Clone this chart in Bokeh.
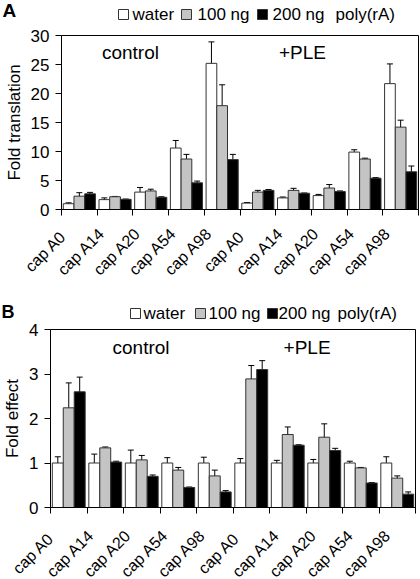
import numpy as np
from bokeh.plotting import figure
from bokeh.core.properties import value
from bokeh.models import (Range1d, FixedTicker, ColumnDataSource, Whisker, TeeHead, Label)
from bokeh.embed import file_html
from bokeh.resources import INLINE

# ---------------- data ----------------
categories = ["cap A0", "cap A14", "cap A20", "cap A54", "cap A98",
              "cap A0", "cap A14", "cap A20", "cap A54", "cap A98"]
series_names = ["water", "100 ng", "200 ng"]

# Panel A: fold translation
a_water = [1.0, 1.7, 3.0, 10.6, 25.2, 1.1, 2.0, 2.4, 9.9, 21.7]
a_water_err = [0.15, 0.3, 0.8, 1.3, 3.7, 0.1, 0.15, 0.2, 0.4, 3.4]
a_100 = [2.3, 2.2, 3.2, 8.7, 17.9, 3.0, 3.3, 3.7, 8.7, 14.2]
a_100_err = [0.6, 0.05, 0.3, 0.8, 3.6, 0.3, 0.35, 0.6, 0.15, 1.2]
a_200 = [2.7, 1.75, 2.1, 4.6, 8.6, 3.3, 2.8, 3.1, 5.4, 6.5]
a_200_err = [0.25, 0.05, 0.1, 0.3, 0.9, 0.15, 0.05, 0.1, 0.1, 1.0]
a_yticks = [0, 5, 10, 15, 20, 25, 30]

# Panel B: fold effect
b_water = [1.0, 1.0, 1.0, 1.0, 1.0, 1.0, 1.0, 1.0, 1.0, 1.0]
b_water_err = [0.14, 0.2, 0.29, 0.12, 0.13, 0.1, 0.06, 0.08, 0.04, 0.14]
b_100 = [2.24, 1.34, 1.07, 0.84, 0.71, 2.89, 1.64, 1.58, 0.89, 0.66]
b_100_err = [0.56, 0.02, 0.1, 0.06, 0.13, 0.3, 0.17, 0.3, 0.01, 0.05]
b_200 = [2.6, 1.02, 0.70, 0.45, 0.35, 3.1, 1.40, 1.28, 0.55, 0.30]
b_200_err = [0.33, 0.02, 0.03, 0.01, 0.03, 0.2, 0.01, 0.05, 0.01, 0.05]
b_yticks = [0, 1, 2, 3, 4]

FONT = "Liberation Sans"
FILLS = ["white", "#c4c4c4", "black"]
OUTLINE = "#333333"
OFFSETS = [-0.3, 0.0, 0.3]
BAR_W = 0.3
W = 420
N = len(categories)


def bare_figure(height, x_range, y_range):
    f = figure(width=W, height=height, title=None, output_backend="svg",
               toolbar_location=None, x_range=x_range, y_range=y_range,
               x_axis_location=None, y_axis_location=None,
               min_border=0, background_fill_color="white", border_fill_color="white")
    f.grid.visible = False
    f.outline_line_color = None
    return f


def make_header(letter, height, letter_xy, letter_size, swatch_x, text_x, key_y, poly_x):
    """Panel letter and colour key, in a small figure measured in pixels."""
    h = bare_figure(height, Range1d(0, W), Range1d(height, 0))
    h.rect(x=swatch_x, y=[key_y] * 3, width=10, height=10, fill_color=FILLS,
           line_color=OUTLINE, line_width=1)
    for tx, name in zip(text_x, series_names):
        h.add_layout(Label(x=tx, y=key_y, text=name, text_align="left",
                           text_baseline="middle", text_font=FONT, text_font_size="17px",
                           text_color="black"))
    h.add_layout(Label(x=poly_x, y=key_y, text="poly(rA)", text_align="left",
                       text_baseline="middle", text_font=FONT, text_font_size="17px",
                       text_color="black"))
    h.add_layout(Label(x=letter_xy[0], y=letter_xy[1], text=letter, text_align="left",
                       text_baseline="middle", text_font=FONT, text_font_size=letter_size,
                       text_font_style="bold", text_color="black"))
    return h


def make_strip(height, frame_left, frame_right, label_y, x_off):
    """Rotated category labels, on an x scale that lines up with the panel's frame."""
    scale = (frame_right - frame_left) / N
    s = bare_figure(height, Range1d(-frame_left / scale, (W - frame_left) / scale),
                    Range1d(height, 0))
    src = ColumnDataSource(dict(x=np.arange(N) + 0.5, y=np.full(N, label_y),
                                text=categories))
    s.text(x="x", y="y", text="text", source=src, angle=np.pi / 4,
           text_align="center", text_baseline="middle", x_offset=x_off,
           text_font=value(FONT), text_font_size=value("16px"), text_color="black")
    return s


def make_panel(ylabel, ymax, yticks, values, errs, height,
               mb_left, mb_right, mb_top, mb_bottom, group_y, group_x,
               ylab_standoff, ytick_standoff):
    p = figure(width=W, height=height, title=None, output_backend="svg",
               toolbar_location=None,
               x_range=Range1d(0, N), y_range=Range1d(0, ymax),
               min_border_left=mb_left, min_border_right=mb_right,
               min_border_top=mb_top, min_border_bottom=mb_bottom,
               background_fill_color="white", border_fill_color="white")
    p.grid.visible = False
    p.outline_line_color = "black"
    p.outline_line_width = 1

    centers = np.arange(N) + 0.5
    for k in range(3):
        xs = centers + OFFSETS[k]
        top = np.array(values[k])
        err = np.array(errs[k])
        src = ColumnDataSource(dict(x=xs, top=top, upper=top + err, lower=top - err))
        p.vbar(x="x", top="top", width=BAR_W, source=src, fill_color=FILLS[k],
               line_color=OUTLINE, line_width=1)
        p.add_layout(Whisker(source=src, base="x", upper="upper", lower="lower",
                             dimension="height", line_color="black", line_width=1,
                             upper_head=TeeHead(size=6, line_color="black", line_width=1),
                             lower_head=TeeHead(size=6, line_color="black", line_width=1)))

    # x axis: tick marks on the category boundaries only
    xa = p.xaxis[0]
    xa.ticker = FixedTicker(ticks=[], minor_ticks=list(range(N + 1)))
    xa.major_tick_line_color = None
    xa.major_tick_out = 0
    xa.major_tick_in = 0
    xa.major_label_standoff = 0
    xa.minor_tick_line_color = "black"
    xa.minor_tick_out = 6
    xa.minor_tick_in = 0
    xa.axis_line_color = "black"

    ya = p.yaxis[0]
    ya.ticker = FixedTicker(ticks=yticks)
    ya.axis_line_color = "black"
    ya.major_tick_line_color = "black"
    ya.major_tick_out = 6
    ya.major_tick_in = 0
    ya.minor_tick_line_color = None
    ya.major_label_text_font = FONT
    ya.major_label_text_font_size = "17px"
    ya.major_label_text_color = "black"
    ya.major_label_standoff = ytick_standoff
    ya.axis_label = ylabel
    ya.axis_label_text_font = FONT
    ya.axis_label_text_font_size = "17px"
    ya.axis_label_text_font_style = "normal"
    ya.axis_label_text_color = "black"
    ya.axis_label_standoff = ylab_standoff

    for gx, gt in zip(group_x, ["control", "+PLE"]):
        p.add_layout(Label(x=gx, y=group_y, text=gt, text_align="center",
                           text_baseline="middle", text_font=FONT,
                           text_font_size="19px", text_color="black"))
    return p


# panel A: window rows 0-28 header, 28-220 plot (frame 35-209), 220-280 labels
hA = make_header("A", 28, letter_xy=(2, 10), letter_size="19px", swatch_x=[123, 186, 262],
                 text_x=[132, 197, 272], key_y=14, poly_x=335)
pA = make_panel("Fold translation", 30, a_yticks,
                [a_water, a_100, a_200], [a_water_err, a_100_err, a_200_err],
                height=192, mb_left=61, mb_right=2, mb_top=7, mb_bottom=11,
                group_y=27.1, group_x=(1.93, 6.75), ylab_standoff=4, ytick_standoff=6)
sA = make_strip(60, frame_left=61, frame_right=418, label_y=31, x_off=-34)

# panel B: window rows 280-322 header, 322-518 plot (frame 329-507), 518-579 labels
hB = make_header("B", 42, letter_xy=(1, 31), letter_size="18px", swatch_x=[135, 200, 272],
                 text_x=[143, 208, 278], key_y=33, poly_x=337)
pB = make_panel("Fold effect", 4, b_yticks,
                [b_water, b_100, b_200], [b_water_err, b_100_err, b_200_err],
                height=196, mb_left=44, mb_right=5, mb_top=7, mb_bottom=11,
                group_y=3.6, group_x=(2.48, 7.03), ylab_standoff=4, ytick_standoff=6)
sB = make_strip(61, frame_left=44, frame_right=415, label_y=35, x_off=-30)

# separate roots, stacked by the page, so that each figure keeps its own borders
open("out.html", "w").write(file_html([hA, pA, sA, hB, pB, sB], INLINE))
